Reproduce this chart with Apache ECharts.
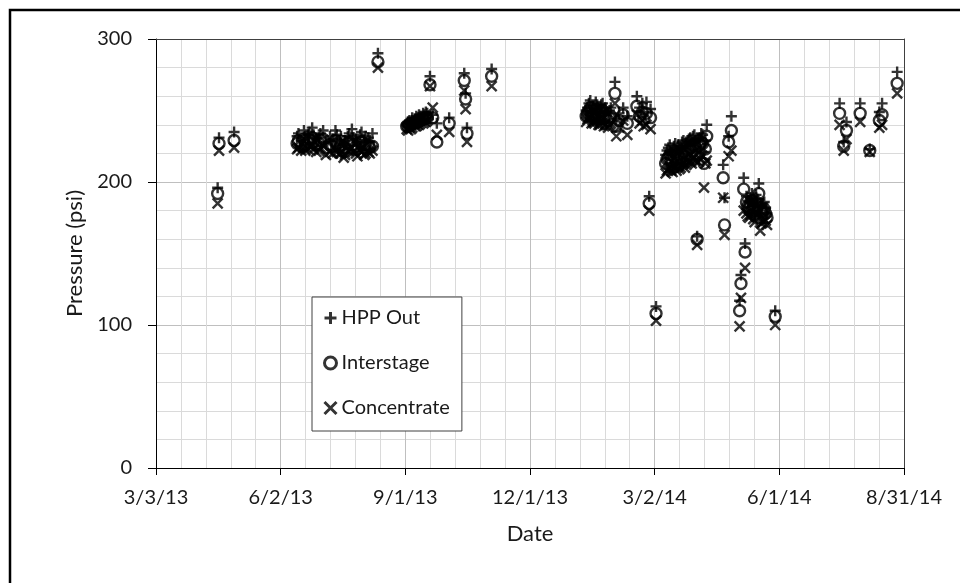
<!DOCTYPE html>
<html>
<head>
<meta charset="utf-8">
<script src="https://cdn.jsdelivr.net/npm/echarts@6/dist/echarts.min.js"></script>
<style>
  html, body { margin: 0; padding: 0; background: #fff; }
  #chart { width: 960px; height: 583px; }
</style>
</head>
<body>
<div id="chart"></div>
<script>
// Sampling dates and the three pressure readings (psi) taken on each date
const sampleDates = [
  '2013-04-17', '2013-04-18', '2013-04-29',
  '2013-06-14', '2013-06-15', '2013-06-17', '2013-06-19', '2013-06-20', '2013-06-22',
  '2013-06-23', '2013-06-25', '2013-06-26', '2013-06-28', '2013-06-30', '2013-07-01',
  '2013-07-03', '2013-07-05', '2013-07-08', '2013-07-10', '2013-07-12', '2013-07-13',
  '2013-07-15', '2013-07-16', '2013-07-18', '2013-07-19', '2013-07-21', '2013-07-22',
  '2013-07-24', '2013-07-25', '2013-07-27', '2013-07-28', '2013-07-30', '2013-07-31',
  '2013-08-02', '2013-08-03', '2013-08-05', '2013-08-06', '2013-08-08', '2013-08-12',
  '2013-09-02', '2013-09-03', '2013-09-04', '2013-09-05', '2013-09-06', '2013-09-08',
  '2013-09-09', '2013-09-10', '2013-09-11', '2013-09-12', '2013-09-14', '2013-09-15',
  '2013-09-16', '2013-09-17', '2013-09-19', '2013-09-21', '2013-09-24', '2013-10-03',
  '2013-10-14', '2013-10-15', '2013-10-16', '2013-11-03',
  '2014-01-11', '2014-01-12', '2014-01-13', '2014-01-14', '2014-01-15', '2014-01-16',
  '2014-01-17', '2014-01-18', '2014-01-19', '2014-01-20', '2014-01-21', '2014-01-22',
  '2014-01-23', '2014-01-24', '2014-01-25', '2014-01-27', '2014-01-28', '2014-01-29',
  '2014-02-01', '2014-02-02', '2014-02-04', '2014-02-07', '2014-02-10', '2014-02-17',
  '2014-02-19', '2014-02-21', '2014-02-22', '2014-02-24', '2014-02-26', '2014-02-27',
  '2014-03-03',
  '2014-03-10', '2014-03-11', '2014-03-12', '2014-03-13', '2014-03-14', '2014-03-15',
  '2014-03-16', '2014-03-17', '2014-03-18', '2014-03-19', '2014-03-20', '2014-03-21',
  '2014-03-22', '2014-03-23', '2014-03-24', '2014-03-25', '2014-03-26', '2014-03-27',
  '2014-03-28', '2014-03-29', '2014-03-30', '2014-03-31', '2014-04-01', '2014-04-02',
  '2014-04-03', '2014-04-04', '2014-04-05', '2014-04-06', '2014-04-07', '2014-04-08',
  '2014-04-09', '2014-04-21', '2014-04-22', '2014-04-25', '2014-04-27',
  '2014-05-03', '2014-05-04', '2014-05-06', '2014-05-07', '2014-05-08', '2014-05-09',
  '2014-05-10', '2014-05-11', '2014-05-12', '2014-05-13', '2014-05-14', '2014-05-15',
  '2014-05-16', '2014-05-17', '2014-05-18', '2014-05-19', '2014-05-20', '2014-05-21',
  '2014-05-22', '2014-05-23', '2014-05-29',
  '2014-07-15', '2014-07-18', '2014-07-20', '2014-07-30', '2014-08-06', '2014-08-13',
  '2014-08-15', '2014-08-26'
];

const hppOut = [
  196, 231, 235,
  232, 234, 229, 236, 231, 233,
  235, 238, 233, 230, 231, 234,
  236, 228, 232, 230, 236, 233,
  229, 232, 226, 229, 232, 234,
  237, 231, 230, 228, 233, 235,
  229, 232, 231, 228, 234, 290,
  241, 242, 243, 242, 245, 244,
  246, 245, 247, 246, 248, 247,
  249, 248, 274, 247, 241, 245,
  276, 262, 238, 279,
  250, 252, 255, 257, 249, 253,
  251, 256, 254, 250, 249, 254,
  255, 251, 252, 248, 250, 252,
  270, 244, 248, 252, 246, 260,
  252, 255, 249, 256, 190, 251,
  113,
  219, 222, 224, 226, 221, 220,
  225, 227, 222, 226, 223, 224,
  228, 229, 225, 227, 229, 230,
  231, 228, 232, 233, 229, 162,
  230, 231, 234, 233, 221, 229,
  240, 212, 189, 232, 246,
  117, 135, 203, 157, 190, 187,
  186, 189, 192, 185, 184, 191,
  188, 199, 180, 183, 185, 186,
  182, 178, 110,
  255, 228, 242, 255, 223, 249,
  255, 277
];

const interstage = [
  192, 227, 229,
  227, 229, 225, 230, 226, 228,
  230, 231, 228, 226, 227, 229,
  230, 224, 226, 225, 229, 227,
  224, 226, 221, 224, 227, 228,
  229, 226, 225, 223, 228, 228,
  224, 226, 226, 224, 225, 284,
  239, 239, 240, 240, 241, 241,
  242, 242, 243, 243, 244, 244,
  245, 245, 268, 245, 228, 241,
  271, 258, 234, 274,
  246, 248, 250, 252, 245, 247,
  246, 251, 248, 246, 244, 249,
  250, 245, 246, 243, 245, 246,
  262, 239, 243, 247, 241, 253,
  246, 249, 244, 248, 185, 245,
  108,
  213, 216, 217, 219, 215, 214,
  218, 221, 216, 219, 216, 217,
  220, 221, 218, 220, 222, 223,
  224, 222, 225, 226, 224, 160,
  225, 226, 228, 227, 213, 223,
  232, 203, 170, 228, 236,
  110, 129, 195, 151, 186, 183,
  182, 184, 187, 181, 180, 186,
  183, 192, 175, 179, 180, 181,
  178, 175, 106,
  248, 225, 236, 248, 222, 243,
  247, 269
];

const concentrate = [
  185, 222, 224,
  223, 224, 222, 224, 222, 223,
  225, 225, 223, 221, 222, 224,
  225, 219, 221, 220, 223, 221,
  220, 220, 217, 219, 222, 222,
  224, 221, 220, 218, 222, 221,
  219, 220, 221, 220, 222, 280,
  237, 236, 238, 237, 238, 239,
  239, 240, 240, 241, 241, 242,
  242, 243, 267, 252, 233, 235,
  264, 251, 228, 267,
  242, 244, 245, 246, 241, 242,
  241, 246, 243, 240, 240, 243,
  244, 239, 240, 238, 240, 241,
  255, 232, 238, 243, 233, 247,
  241, 243, 239, 240, 180, 237,
  103,
  206, 208, 209, 210, 208, 207,
  210, 211, 208, 211, 209, 210,
  212, 213, 210, 212, 213, 214,
  215, 213, 216, 217, 215, 156,
  214, 216, 219, 218, 196, 213,
  215, 189, 163, 218, 222,
  99, 119, 180, 140, 178, 176,
  175, 177, 180, 174, 172, 178,
  176, 185, 166, 171, 172, 174,
  173, 170, 100,
  240, 222, 230, 242, 221, 238,
  240, 262
];

// Date axis: days counted from 3/3/13, one labelled tick every 13 weeks
const xTickLabels = ['3/3/13', '6/2/13', '9/1/13', '12/1/13', '3/2/14', '6/1/14', '8/31/14'];
const TICK_DAYS = 91;
const AXIS_START = Date.UTC(2013, 2, 3);
const DAY_MS = 86400000;

function dayOffset(iso) {
  const p = iso.split('-').map(Number);
  return Math.round((Date.UTC(p[0], p[1] - 1, p[2]) - AXIS_START) / DAY_MS);
}

const dayValues = sampleDates.map(dayOffset);
const pairs = (vals) => dayValues.map((d, i) => [d, vals[i]]);

const FONT = 'Lato, "Open Sans", sans-serif';
const TEXT = '#1a1a1a';

const plusPath = 'path://M0,5L10,5M5,0L5,10';
const crossPath = 'path://M0,0L10,10M10,0L0,10';

const markerStyle = { color: 'transparent', borderColor: '#000', borderWidth: 2.4 };

const chart = echarts.init(document.getElementById('chart'), null, { renderer: 'canvas' });

chart.setOption({
  animation: false,
  backgroundColor: '#fff',
  textStyle: { fontFamily: FONT },
  grid: { left: 156, right: 56, top: 39, bottom: 115, containLabel: false },
  graphic: [{
    type: 'rect',
    silent: true,
    shape: { x: 10, y: 10, width: 1000, height: 1000 },
    style: { fill: 'none', stroke: '#000', lineWidth: 2.5 }
  }],
  legend: {
    orient: 'vertical',
    left: 312,
    top: 297,
    padding: [11, 12, 13, 11],
    itemGap: 25,
    itemWidth: 12,
    itemHeight: 12,
    backgroundColor: '#fff',
    borderColor: '#404040',
    borderWidth: 1,
    borderRadius: 0,
    itemStyle: { borderWidth: 3, borderColor: '#000', color: 'transparent' },
    textStyle: { fontFamily: FONT, fontSize: 20, color: TEXT, lineHeight: 20, padding: [0, 0, 0, 0] },
    data: ['HPP Out', 'Interstage', 'Concentrate']
  },
  xAxis: [{
    type: 'value',
    min: 0,
    max: 546,
    interval: TICK_DAYS,
    name: 'Date',
    nameLocation: 'middle',
    nameGap: 55,
    nameTextStyle: { fontFamily: FONT, fontSize: 22, color: TEXT },
    axisLine: { show: true, onZero: false, lineStyle: { color: '#000', width: 1 } },
    axisTick: { show: true, length: 7, lineStyle: { color: '#000' } },
    axisLabel: {
      fontFamily: FONT, fontSize: 20, color: TEXT, margin: 20,
      formatter: (v) => xTickLabels[Math.round(v / TICK_DAYS)] || ''
    },
    splitLine: { show: true, lineStyle: { color: '#bfbfbf', width: 1 } },
    minorTick: { show: false, splitNumber: 5 },
    minorSplitLine: { show: true, lineStyle: { color: '#dadada', width: 1 } }
  }, {
    type: 'value',
    position: 'top',
    min: 0,
    max: 546,
    axisLine: { show: true, onZero: false, lineStyle: { color: '#404040', width: 1 } },
    axisTick: { show: false },
    axisLabel: { show: false },
    splitLine: { show: false }
  }],
  yAxis: [{
    type: 'value',
    min: 0,
    max: 300,
    interval: 100,
    name: 'Pressure (psi)',
    nameLocation: 'middle',
    nameGap: 68,
    nameTextStyle: { fontFamily: FONT, fontSize: 22, color: TEXT },
    axisLine: { show: true, onZero: false, lineStyle: { color: '#000', width: 1 } },
    axisTick: { show: true, length: 8, lineStyle: { color: '#000' } },
    axisLabel: { fontFamily: FONT, fontSize: 20, color: TEXT, margin: 24 },
    splitLine: { show: true, lineStyle: { color: '#bfbfbf', width: 1 } },
    minorTick: { show: false, splitNumber: 5 },
    minorSplitLine: { show: true, lineStyle: { color: '#dadada', width: 1 } }
  }, {
    type: 'value',
    position: 'right',
    min: 0,
    max: 300,
    axisLine: { show: true, onZero: false, lineStyle: { color: '#404040', width: 1 } },
    axisTick: { show: false },
    axisLabel: { show: false },
    splitLine: { show: false }
  }],
  series: [{
    name: 'HPP Out',
    type: 'scatter',
    symbol: plusPath,
    symbolSize: 11,
    itemStyle: markerStyle,
    silent: true,
    data: pairs(hppOut)
  }, {
    name: 'Interstage',
    type: 'scatter',
    symbol: 'circle',
    symbolSize: 11,
    itemStyle: markerStyle,
    silent: true,
    data: pairs(interstage)
  }, {
    name: 'Concentrate',
    type: 'scatter',
    symbol: crossPath,
    symbolSize: 10,
    itemStyle: markerStyle,
    silent: true,
    data: pairs(concentrate)
  }]
});
</script>
</body>
</html>
